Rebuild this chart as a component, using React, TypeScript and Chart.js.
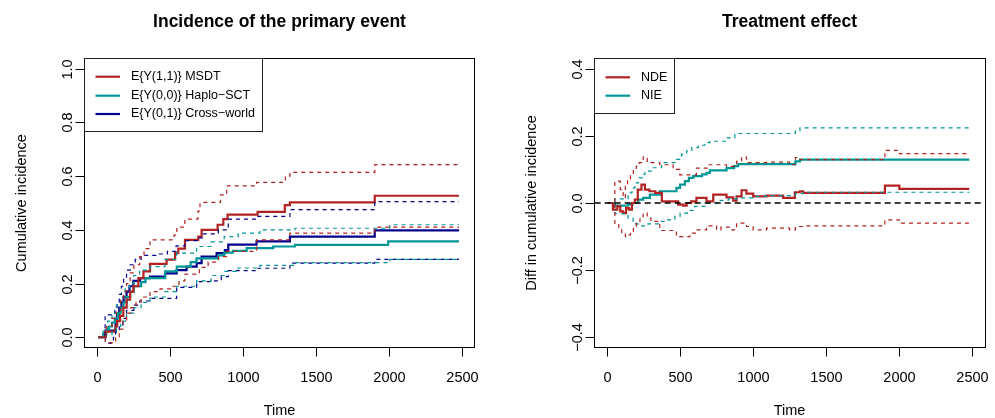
import { useEffect, useRef } from "react";
import { Chart, registerables } from "chart.js";
Chart.register(...registerables);

// ---------- data ----------
const xTicks = [0, 500, 1000, 1500, 2000, 2500];
const yTicksLeft = [0, 0.2, 0.4, 0.6, 0.8, 1.0];
const yTickLabelsLeft = ["0.0", "0.2", "0.4", "0.6", "0.8", "1.0"];
const yTicksRight = [-0.4, -0.2, 0, 0.2, 0.4];
const yTickLabelsRight = ["\u22120.4", "\u22120.2", "0.0", "0.2", "0.4"];

const legendLeft = ["E{Y(1,1)} MSDT", "E{Y(0,0)} Haplo\u2212SCT", "E{Y(0,1)} Cross\u2212world"];
const legendRight = ["NDE", "NIE"];

// left panel: MSDT
const msdtT = [5, 55, 125, 135, 156, 178, 201, 224, 247, 281, 316, 361, 475, 533, 555, 601, 692, 715, 825, 864, 893, 1099, 1286, 1321, 1903, 2481];
const msdtV = [0, 0.021, 0.04, 0.06, 0.08, 0.11, 0.14, 0.17, 0.19, 0.22, 0.245, 0.273, 0.289, 0.313, 0.33, 0.363, 0.375, 0.4, 0.419, 0.44, 0.457, 0.467, 0.492, 0.502, 0.527, 0.527];
const msdtUpT = [5, 60, 100, 130, 160, 180, 200, 225, 250, 290, 320, 361, 525, 545, 600, 690, 704, 845, 887, 1092, 1290, 1321, 1903, 2481];
const msdtUpV = [0, 0.04, 0.07, 0.1, 0.14, 0.17, 0.2, 0.24, 0.27, 0.3, 0.33, 0.363, 0.38, 0.41, 0.44, 0.47, 0.502, 0.53, 0.564, 0.577, 0.6, 0.614, 0.643, 0.643];
const msdtLoT = [5, 55, 125, 150, 175, 200, 230, 265, 300, 361, 430, 520, 560, 600, 700, 760, 830, 887, 1092, 1321, 1903, 2481];
const msdtLoV = [0, -0.02, 0, 0.03, 0.06, 0.09, 0.11, 0.13, 0.15, 0.17, 0.18, 0.19, 0.21, 0.235, 0.26, 0.28, 0.3, 0.32, 0.363, 0.388, 0.41, 0.41];

// left panel: Haplo-SCT
const haploT = [5, 40, 60, 80, 100, 120, 140, 160, 180, 200, 225, 250, 300, 330, 465, 545, 640, 680, 830, 870, 930, 1024, 1206, 1355, 1995, 2481];
const haploV = [0, 0.012, 0.025, 0.04, 0.055, 0.07, 0.09, 0.11, 0.13, 0.15, 0.17, 0.19, 0.205, 0.22, 0.245, 0.263, 0.28, 0.294, 0.305, 0.315, 0.322, 0.332, 0.338, 0.344, 0.357, 0.357];
const haploUpT = [5, 40, 70, 100, 130, 160, 190, 220, 250, 290, 361, 464, 544, 681, 780, 870, 966, 1115, 1355, 2006, 2481];
const haploUpV = [0, 0.03, 0.06, 0.09, 0.12, 0.15, 0.18, 0.2, 0.23, 0.25, 0.263, 0.29, 0.313, 0.338, 0.355, 0.375, 0.388, 0.4, 0.406, 0.419, 0.419];
const haploLoT = [5, 60, 100, 130, 160, 200, 250, 300, 361, 464, 544, 681, 780, 870, 966, 1115, 1355, 2006, 2481];
const haploLoV = [0, 0.01, 0.02, 0.04, 0.06, 0.09, 0.11, 0.13, 0.15, 0.17, 0.19, 0.21, 0.23, 0.245, 0.258, 0.268, 0.278, 0.29, 0.29];

// left panel: Cross-world
const crossT = [5, 55, 125, 135, 150, 165, 180, 200, 220, 247, 293, 361, 464, 544, 612, 681, 715, 818, 875, 898, 1092, 1321, 1903, 2481];
const crossV = [0, 0.025, 0.05, 0.08, 0.11, 0.13, 0.15, 0.17, 0.19, 0.21, 0.22, 0.226, 0.238, 0.25, 0.263, 0.276, 0.3, 0.313, 0.325, 0.345, 0.357, 0.375, 0.398, 0.398];
const crossUpT = [5, 53, 120, 135, 150, 165, 180, 200, 225, 260, 300, 400, 480, 540, 600, 690, 720, 830, 898, 1092, 1321, 1903, 2481];
const crossUpV = [0, 0.083, 0.1, 0.13, 0.16, 0.19, 0.22, 0.25, 0.27, 0.29, 0.305, 0.31, 0.32, 0.34, 0.36, 0.37, 0.385, 0.4, 0.44, 0.45, 0.475, 0.505, 0.505];
const crossLoT = [5, 55, 110, 125, 150, 175, 200, 250, 290, 361, 544, 681, 780, 850, 898, 1092, 1321, 1903, 2481];
const crossLoV = [0, -0.022, 0, 0.02, 0.04, 0.07, 0.1, 0.12, 0.135, 0.145, 0.186, 0.207, 0.21, 0.226, 0.248, 0.257, 0.276, 0.29, 0.29];

// right panel: NDE
const ndeT = [5, 40, 70, 90, 110, 130, 150, 170, 190, 210, 235, 259, 290, 330, 375, 487, 521, 545, 575, 612, 681, 727, 818, 864, 887, 921, 955, 1001, 1092, 1206, 1286, 1321, 1343, 1903, 2002, 2481];
const ndeV = [0, -0.02, -0.01, -0.025, -0.03, -0.015, -0.02, 0, 0.01, 0.04, 0.055, 0.04, 0.035, 0.03, 0.005, -0.005, -0.008, 0, 0.005, 0.015, 0.005, 0.025, 0.017, 0.007, 0.02, 0.038, 0.028, 0.02, 0.022, 0.015, 0.032, 0.035, 0.03, 0.052, 0.042, 0.042];
const ndeUpT = [5, 53, 90, 110, 125, 140, 160, 180, 200, 220, 247, 275, 361, 452, 498, 612, 700, 818, 887, 921, 955, 1092, 1250, 1290, 1321, 1343, 1903, 2002, 2481];
const ndeUpV = [0, 0.065, 0.04, 0.015, 0.05, 0.07, 0.085, 0.1, 0.11, 0.12, 0.137, 0.12, 0.114, 0.1, 0.084, 0.104, 0.114, 0.109, 0.124, 0.137, 0.12, 0.122, 0.114, 0.135, 0.129, 0.129, 0.157, 0.147, 0.147];
const ndeLoT = [5, 53, 80, 100, 125, 140, 160, 180, 200, 225, 247, 275, 300, 361, 475, 498, 567, 612, 681, 750, 780, 842, 887, 955, 1000, 1092, 1250, 1290, 1343, 1903, 2002, 2481];
const ndeLoV = [0, -0.06, -0.075, -0.09, -0.1, -0.095, -0.085, -0.07, -0.06, -0.045, -0.03, -0.045, -0.055, -0.082, -0.095, -0.1, -0.09, -0.08, -0.068, -0.08, -0.072, -0.08, -0.06, -0.07, -0.08, -0.075, -0.08, -0.07, -0.068, -0.05, -0.06, -0.06];

// right panel: NIE
const nieT = [5, 53, 144, 175, 213, 247, 293, 361, 475, 500, 533, 560, 590, 650, 681, 704, 818, 870, 898, 1290, 1321, 2481];
const nieV = [0, -0.008, -0.004, 0, 0.01, 0.015, 0.025, 0.035, 0.045, 0.055, 0.065, 0.075, 0.08, 0.085, 0.09, 0.097, 0.104, 0.11, 0.116, 0.124, 0.129, 0.129];
const nieUpT = [5, 53, 144, 170, 190, 215, 240, 259, 304, 373, 475, 510, 545, 580, 625, 670, 704, 818, 875, 1290, 1321, 2481];
const nieUpV = [0, 0.012, 0.03, 0.045, 0.06, 0.075, 0.085, 0.095, 0.105, 0.12, 0.13, 0.145, 0.155, 0.165, 0.172, 0.18, 0.184, 0.194, 0.207, 0.215, 0.224, 0.224];
const nieLoT = [5, 53, 144, 178, 213, 280, 350, 395, 464, 500, 550, 600, 681, 760, 830, 887, 1000, 1092, 1290, 1343, 2481];
const nieLoV = [0, -0.032, -0.045, -0.062, -0.068, -0.062, -0.055, -0.05, -0.04, -0.03, -0.022, -0.01, 0, 0.008, 0.012, 0.015, 0.02, 0.022, 0.028, 0.032, 0.032];

const zeroT = [-85, 2584];
const zeroV = [0, 0];

// ---------- styles ----------
const RED = "#B22222";
const TEAL = "#009696";
const NAVY = "#00008B";
const FONT = "'Liberation Sans', Arial, Helvetica, sans-serif";

const pts = (t: number[], v: number[]) => t.map((x, i) => ({ x, y: v[i] }));

const solid = (t: number[], v: number[], color: string) => ({
  data: pts(t, v),
  borderColor: color,
  borderWidth: 2.2,
  stepped: true as const,
  pointRadius: 0,
  order: 2,
});
const dashed = (t: number[], v: number[], color: string) => ({
  data: pts(t, v),
  borderColor: color,
  borderWidth: 1.2,
  borderDash: [4, 4],
  stepped: true as const,
  pointRadius: 0,
  order: 1,
});

type PanelCfg = {
  title: string;
  ylabel: string;
  yTicks: number[];
  yTickLabels: string[];
  legend: string[];
  legendColors: string[];
  legendBox: [number, number, number, number];
  legendRows: number[];
};

function makeAxesPlugin(cfg: PanelCfg) {
  return {
    id: "rAxes",
    afterDraw(chart: any) {
      const ctx = chart.ctx as CanvasRenderingContext2D;
      const a = chart.chartArea;
      const xs = chart.scales.x;
      const ys = chart.scales.y;
      ctx.save();
      // box
      ctx.strokeStyle = "#000";
      ctx.lineWidth = 1;
      ctx.strokeRect(Math.round(a.left) - 0.5, Math.round(a.top) + 0.5, Math.round(a.right - a.left) + 1, Math.round(a.bottom - a.top) - 1);
      // x ticks
      ctx.fillStyle = "#000";
      ctx.font = `14.5px ${FONT}`;
      ctx.textAlign = "center";
      ctx.textBaseline = "middle";
      const yb = Math.round(a.bottom) - 0.5;
      xTicks.forEach((t) => {
        const px = Math.round(xs.getPixelForValue(t)) + 0.5;
        ctx.beginPath();
        ctx.moveTo(px, yb);
        ctx.lineTo(px, yb + 9);
        ctx.stroke();
        ctx.fillText(String(t), px, 378);
      });
      // y ticks
      const xl = Math.round(a.left) - 0.5;
      cfg.yTicks.forEach((v, i) => {
        const py = Math.round(ys.getPixelForValue(v)) + 0.5;
        ctx.beginPath();
        ctx.moveTo(xl, py);
        ctx.lineTo(xl - 9, py);
        ctx.stroke();
        ctx.save();
        ctx.translate(a.left - 17, py);
        ctx.rotate(-Math.PI / 2);
        ctx.fillText(cfg.yTickLabels[i], 0, 0);
        ctx.restore();
      });
      // axis titles
      const cx = (a.left + a.right) / 2;
      const cy = (a.top + a.bottom) / 2;
      ctx.fillText("Time", cx, 411);
      ctx.save();
      ctx.translate(a.left - 63, cy);
      ctx.rotate(-Math.PI / 2);
      ctx.fillText(cfg.ylabel, 0, 0);
      ctx.restore();
      // main title
      ctx.font = `bold 17.5px ${FONT}`;
      ctx.fillText(cfg.title, cx, 22);
      // legend
      const [lx, ly, lw, lh] = cfg.legendBox;
      ctx.fillStyle = "#fff";
      ctx.fillRect(lx, ly, lw, lh);
      ctx.strokeStyle = "#222";
      ctx.strokeRect(lx + 0.5, ly + 0.5, lw, lh);
      ctx.font = `12.5px ${FONT}`;
      ctx.textAlign = "left";
      cfg.legend.forEach((lab, i) => {
        const ry = cfg.legendRows[i];
        ctx.strokeStyle = cfg.legendColors[i];
        ctx.lineWidth = 2.2;
        ctx.beginPath();
        ctx.moveTo(lx + 11.5, ry);
        ctx.lineTo(lx + 36, ry);
        ctx.stroke();
        ctx.fillStyle = "#000";
        ctx.fillText(lab, lx + 47, ry);
      });
      ctx.restore();
    },
  };
}

function baseOptions(ymin: number, ymax: number, padding: any) {
  return {
    responsive: false,
    animation: false as const,
    layout: { padding },
    plugins: { legend: { display: false }, title: { display: false }, tooltip: { enabled: false } },
    elements: { line: { tension: 0 } },
    scales: {
      x: { type: "linear" as const, min: -85, max: 2584, display: false },
      y: { type: "linear" as const, min: ymin, max: ymax, display: false },
    },
    events: [],
  };
}

export default function App() {
  const leftRef = useRef<HTMLCanvasElement>(null);
  const rightRef = useRef<HTMLCanvasElement>(null);

  useEffect(() => {
    const left = new Chart(leftRef.current!, {
      type: "line",
      data: {
        datasets: [
          solid(msdtT, msdtV, RED),
          solid(haploT, haploV, TEAL),
          solid(crossT, crossV, NAVY),
          dashed(msdtUpT, msdtUpV, RED),
          dashed(msdtLoT, msdtLoV, RED),
          dashed(haploUpT, haploUpV, TEAL),
          dashed(haploLoT, haploLoV, TEAL),
          dashed(crossUpT, crossUpV, NAVY),
          dashed(crossLoT, crossLoV, NAVY),
        ] as any,
      },
      options: baseOptions(-0.04, 1.04, { left: 85, right: 23, top: 58, bottom: 70 }) as any,
      plugins: [
        makeAxesPlugin({
          title: "Incidence of the primary event",
          ylabel: "Cumulative incidence",
          yTicks: yTicksLeft,
          yTickLabels: yTickLabelsLeft,
          legend: legendLeft,
          legendColors: [RED, TEAL, NAVY],
          legendBox: [84, 58, 178, 73],
          legendRows: [76.7, 95.7, 114],
        }),
      ],
    });
    const right = new Chart(rightRef.current!, {
      type: "line",
      data: {
        datasets: [
          { data: pts(zeroT, zeroV), borderColor: "#000", borderWidth: 1.3, borderDash: [6, 4], pointRadius: 0, order: 0 },
          solid(ndeT, ndeV, RED),
          solid(nieT, nieV, TEAL),
          dashed(ndeUpT, ndeUpV, RED),
          dashed(ndeLoT, ndeLoV, RED),
          dashed(nieUpT, nieUpV, TEAL),
          dashed(nieLoT, nieLoV, TEAL),
        ] as any,
      },
      options: baseOptions(-0.432, 0.432, { left: 97.7, right: 10.7, top: 58, bottom: 70 }) as any,
      plugins: [
        makeAxesPlugin({
          title: "Treatment effect",
          ylabel: "Diff in cumulative incidence",
          yTicks: yTicksRight,
          yTickLabels: yTickLabelsRight,
          legend: legendRight,
          legendColors: [RED, TEAL],
          legendBox: [97, 58, 80, 55],
          legendRows: [77.3, 95.7],
        }),
      ],
    });
    return () => {
      left.destroy();
      right.destroy();
    };
  }, []);

  return (
    <div style={{ position: "absolute", left: 0, top: 0, width: 995, height: 418, background: "#fff" }}>
      <canvas ref={leftRef} width={497} height={418} style={{ position: "absolute", left: 0, top: 0, width: 497, height: 418 }} />
      <canvas ref={rightRef} width={498} height={418} style={{ position: "absolute", left: 497, top: 0, width: 498, height: 418 }} />
    </div>
  );
}
